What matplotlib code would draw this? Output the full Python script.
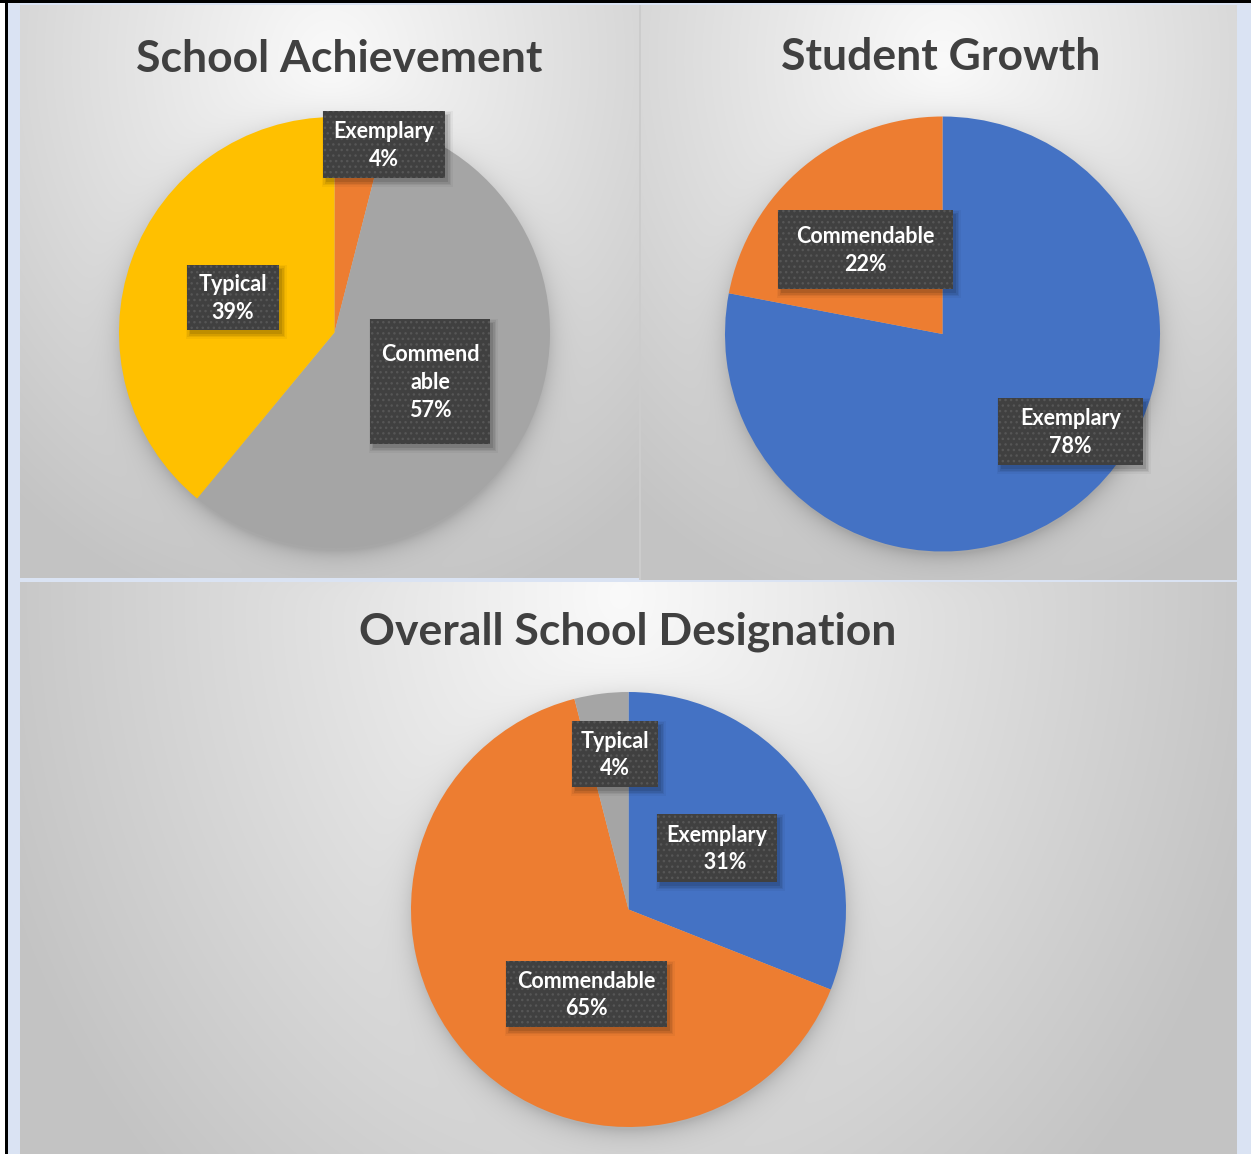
import numpy as np
import matplotlib
matplotlib.use("Agg")
import matplotlib.pyplot as plt
from matplotlib.patches import Rectangle

# ---------------- data ----------------
titles = ["School Achievement", "Student Growth", "Overall School Designation"]

ach_labels = ["Exemplary", "Commendable", "Typical"]
ach_values = [4, 57, 39]
ach_colors = ["#ED7D31", "#A5A5A5", "#FFC000"]

growth_labels = ["Exemplary", "Commendable"]
growth_values = [78, 22]
growth_colors = ["#4472C4", "#ED7D31"]

overall_labels = ["Exemplary", "Commendable", "Typical"]
overall_values = [31, 65, 4]
overall_colors = ["#4472C4", "#ED7D31", "#A5A5A5"]

# label display text (as shown in the boxes)
ach_text = ["Exemplary\n4%", "Commend\nable\n57%", "Typical\n39%"]
growth_text = ["Exemplary\n78%", "Commendable\n22%"]
overall_text = ["Exemplary\n   31%", "Commendable\n65%", "Typical\n4%"]

# ---------------- layout (pixels) ----------------
W, H = 1251, 1154
DPI = 100
FONT = "Lato"

pies = [
    dict(vals=ach_values, cols=ach_colors, txt=ach_text, c=(334.5, 332.5), r=215.5,
         boxes=[(323, 111, 445, 178), (370, 319, 490, 444), (187, 265, 279, 330)],
         title_xy=(339, 59)),
    dict(vals=growth_values, cols=growth_colors, txt=growth_text, c=(942.5, 334), r=217.5,
         boxes=[(998, 398, 1143, 465), (778, 210, 953, 289)],
         title_xy=(941, 57)),
    dict(vals=overall_values, cols=overall_colors, txt=overall_text, c=(628.5, 909.5), r=217.5,
         boxes=[(657, 814, 777, 882), (506, 961, 667, 1027), (572, 721, 658, 787)],
         title_xy=(628, 632)),
]

# ---------------- background image ----------------
img = np.ones((H, W, 3))
yy, xx = np.mgrid[0:H, 0:W].astype(float)
blue = np.array([0xDA, 0xE3, 0xF3]) / 255.0
img[:, :, :] = blue

def panel(x0, x1, y0, y1, cx, cy, sx, sy, lo):
    sub_y = yy[y0:y1, x0:x1]
    sub_x = xx[y0:y1, x0:x1]
    r = np.sqrt(((sub_x - cx) / sx) ** 2 + ((sub_y - cy) / sy) ** 2)
    return np.clip(0.98 - 0.21 * r, lo, 1.0)

v1 = panel(20, 639, 5, 578, 330, 60, 480, 560, 0.765)
v2 = panel(641, 1237, 5, 580, 943, 60, 480, 560, 0.765)
v3 = panel(20, 1237, 582, H, 620, 595, 650, 800, 0.765)

val = np.full((H, W), np.nan)
val[5:578, 20:639] = v1
val[5:580, 641:1237] = v2
val[582:H, 20:1237] = v3

# pie drop shadows
for p in pies:
    cx, cy = p["c"]
    d = np.sqrt((xx - cx) ** 2 + (yy - (cy + 5)) ** 2) - p["r"]
    sh = 0.14 * np.exp(-np.clip(d + 3, 0, None) / 11.0)
    val = val - np.where(np.isnan(val), 0, sh)

mask = ~np.isnan(val)
for k in range(3):
    ch = img[:, :, k]
    ch[mask] = val[mask]
    img[:, :, k] = ch

# separators
img[578:582, 20:639] = blue
img[5:580, 639:641] = 0.80
# black frame
img[:, 0:5] = 1.0
img[0:3, :] = 0.0
img[:, 5:8] = 0.0

fig = plt.figure(figsize=(W / DPI, H / DPI), dpi=DPI)
bg = fig.add_axes([0, 0, 1, 1], zorder=0)
bg.imshow(img, extent=(0, W, H, 0), interpolation="bilinear")
bg.set_xlim(0, W)
bg.set_ylim(H, 0)
bg.axis("off")

# ---------------- pies ----------------
for p in pies:
    cx, cy = p["c"]
    r = p["r"]
    ax = fig.add_axes([(cx - r) / W, 1 - (cy + r) / H, 2 * r / W, 2 * r / H], zorder=1)
    ax.pie(p["vals"], colors=p["cols"], startangle=90, counterclock=False,
           wedgeprops=dict(linewidth=0, antialiased=True))
    ax.set_xlim(-1, 1)
    ax.set_ylim(-1, 1)
    ax.set_aspect("auto")
    ax.axis("off")

# ---------------- overlay: titles and labels ----------------
ov = fig.add_axes([0, 0, 1, 1], zorder=2)
ov.patch.set_alpha(0)
ov.set_xlim(0, W)
ov.set_ylim(H, 0)
ov.axis("off")

for t, p in zip(titles, pies):
    ov.text(p["title_xy"][0], p["title_xy"][1], t, ha="center", va="center",
            fontsize=32, fontweight="bold", color="#404040", family=FONT)
    for (x0, y0, x1, y1), s in zip(p["boxes"], p["txt"]):
        # soft shadow
        for i, a in enumerate([0.10, 0.08, 0.06, 0.04]):
            e = i * 1.5
            ov.add_patch(Rectangle((x0 + 3 - e, y0 + 4 - e), (x1 - x0) + 2 * e, (y1 - y0) + 2 * e,
                                   facecolor="black", edgecolor="none", alpha=a, zorder=3))
        ov.add_patch(Rectangle((x0, y0), x1 - x0, y1 - y0, facecolor="#404040",
                               edgecolor="#565656", linewidth=0, hatch="...", zorder=4))
        ov.text((x0 + x1) / 2, (y0 + y1) / 2 + 1, s, ha="center", va="center",
                fontsize=15.5, fontweight="bold", color="white", family=FONT,
                linespacing=1.4, zorder=5)

fig.savefig("out.png", dpi=DPI)
